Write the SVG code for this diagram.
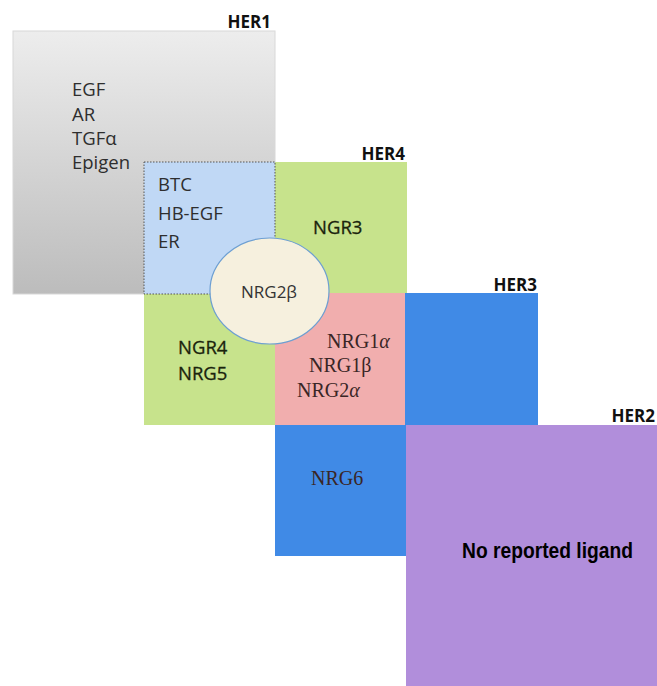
<svg xmlns="http://www.w3.org/2000/svg" width="657" height="686" viewBox="0 0 657 686">
  <style>
    .lbl { font-family: "Open Sans", "Liberation Sans", sans-serif; font-weight: bold; font-size: 17px; fill: #111; text-anchor: end; }
    .sans { font-family: "Open Sans", "Liberation Sans", sans-serif; font-size: 18.5px; fill: #2e2e2e; }
    .ngr { font-family: "Open Sans", "Liberation Sans", sans-serif; font-size: 18.5px; fill: #1a240c; stroke: #1a240c; stroke-width: 0.3px; }
    .serif { font-family: "Liberation Serif", "DejaVu Serif", serif; font-size: 20px; fill: #3a2626; }
  </style>
  <defs>
    <linearGradient id="her1Fill" x1="0" y1="0" x2="0" y2="1">
      <stop offset="0" stop-color="#ededed"/>
      <stop offset="1" stop-color="#bcbcbc"/>
    </linearGradient>
  </defs>
  <rect width="657" height="686" fill="#ffffff"/>

  <!-- HER1 receptor -->
  <g id="her1">
    <rect x="13" y="31" width="262" height="263" fill="url(#her1Fill)" stroke="#d8d8d8" stroke-width="1"/>
    <text class="lbl" x="271" y="28">HER1</text>
    <text class="sans" x="72" y="96">EGF</text>
    <text class="sans" x="72" y="121">AR</text>
    <text class="sans" x="72" y="145">TGFα</text>
    <text class="sans" x="72" y="169">Epigen</text>
  </g>

  <!-- HER4 receptor -->
  <g id="her4">
    <rect x="144" y="162" width="263" height="263" fill="#c7e38c"/>
    <text class="lbl" x="405" y="160">HER4</text>
    <text class="ngr" x="313" y="234">NGR3</text>
    <text class="ngr" x="178" y="354">NGR4</text>
    <text class="ngr" x="178" y="380">NRG5</text>
  </g>

  <!-- HER1 / HER4 shared ligands -->
  <g id="her1-her4">
    <rect x="144" y="162" width="131" height="132" fill="#c0d8f5" stroke="#555" stroke-width="1" stroke-dasharray="1.5 1.5"/>
    <text class="sans" x="158" y="191">BTC</text>
    <text class="sans" x="158" y="220">HB-EGF</text>
    <text class="sans" x="158" y="248">ER</text>
  </g>

  <!-- HER3 receptor -->
  <g id="her3">
    <rect x="275" y="293" width="263" height="263" fill="#408ae6"/>
    <text class="lbl" x="537" y="291">HER3</text>
    <text class="serif" x="311" y="485" fill="#17264a">NRG6</text>
  </g>

  <!-- HER3 / HER4 shared ligands -->
  <g id="her3-her4">
    <rect x="275" y="293" width="130" height="132" fill="#f1aeae"/>
    <text class="serif" x="327" y="348">NRG1<tspan font-style="italic">α</tspan></text>
    <text class="serif" x="309" y="372">NRG1β</text>
    <text class="serif" x="297" y="397">NRG2<tspan font-style="italic">α</tspan></text>
  </g>

  <!-- HER2 receptor -->
  <g id="her2">
    <rect x="406" y="425" width="251" height="261" fill="#b18edb"/>
    <text class="lbl" x="655" y="422">HER2</text>
    <text x="462" y="558" font-family="'Liberation Sans Narrow', 'Liberation Sans', sans-serif" font-weight="bold" font-size="22" fill="#000" textLength="171" lengthAdjust="spacingAndGlyphs">No reported ligand</text>
  </g>

  <!-- NRG2β, shared by HER1, HER3 and HER4 -->
  <g id="nrg2b">
    <ellipse cx="269.5" cy="291" rx="59.5" ry="53" fill="#f6f0de" stroke="#6d9fd2" stroke-width="1.2"/>
    <text x="269" y="298" text-anchor="middle" font-family="'Open Sans', 'Liberation Sans', sans-serif" font-size="17" fill="#333">NRG2β</text>
  </g>

  <g id="connectors"/>
</svg>
